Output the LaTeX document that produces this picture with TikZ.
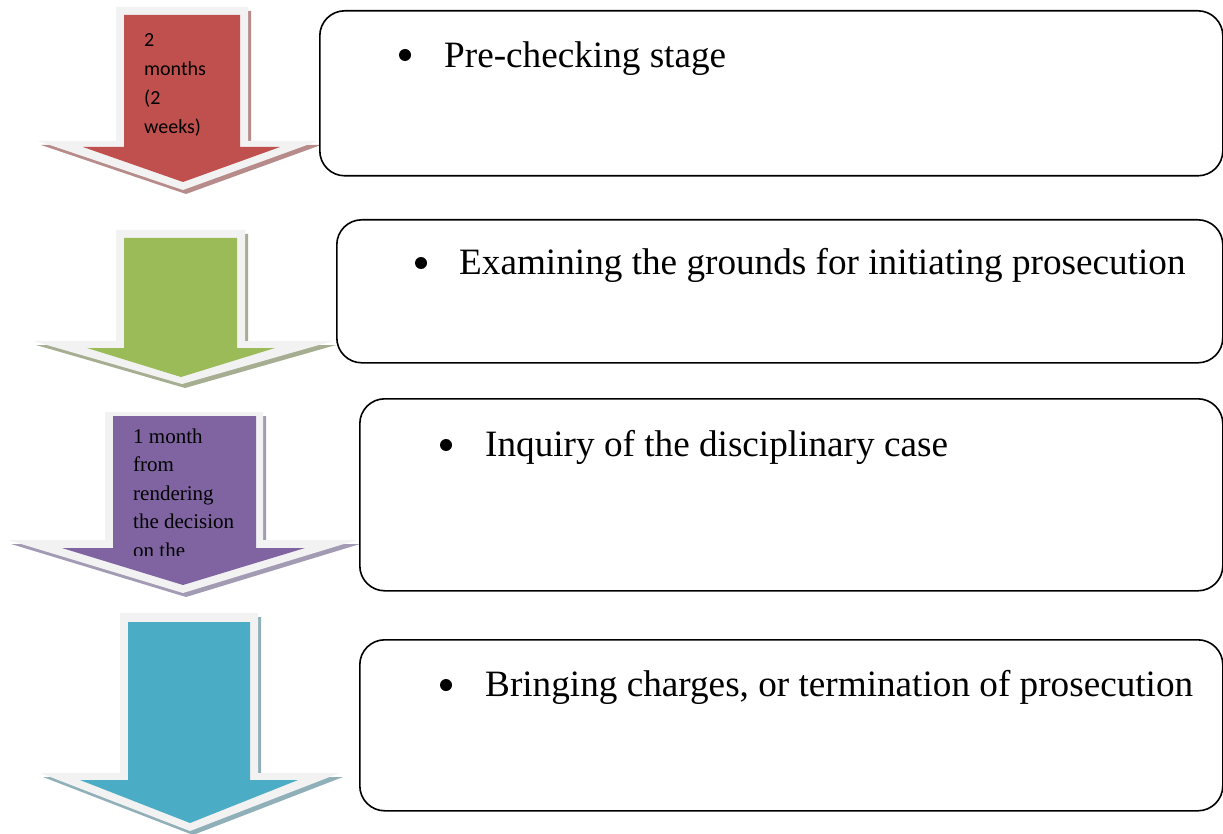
\documentclass[tikz,border=0pt]{standalone}
\usepackage{fontspec}
\setmainfont{Liberation Serif}
\newfontfamily\calibrifont{Carlito}
\newfontfamily\timesfont{Liberation Serif}

\definecolor{rimgrey}{HTML}{F2F2F2}
\definecolor{redfill}{HTML}{C0504D}
\definecolor{redshade}{HTML}{B78B8A}
\definecolor{greenfill}{HTML}{9BBB59}
\definecolor{greenshade}{HTML}{A5AE90}
\definecolor{purplefill}{HTML}{8064A2}
\definecolor{purpleshade}{HTML}{A39BB3}
\definecolor{tealfill}{HTML}{4BACC6}
\definecolor{tealshade}{HTML}{8FB0B8}

% block arrow pointing down:
% #1 style, #2 shaft left, #3 shaft right, #4 top, #5 wing y,
% #6 wing left, #7 wing right, #8 tip x, #9 tip y
\newcommand\blockarrow[9]{%
  \fill[#1] (#2,#4) -- (#3,#4) -- (#3,#5) -- (#7,#5) -- (#8,#9)
    -- (#6,#5) -- (#2,#5) -- cycle;}

\begin{document}
\begin{tikzpicture}[x=1pt,y=-1pt,
  stagebox/.style={draw=black, line width=1.6, fill=white,
    rounded corners=25, anchor=north west, inner sep=0},
  bulletdot/.style={circle, fill=black, inner sep=0, minimum size=12},
  stagetext/.style={anchor=base west, inner sep=0,
    font=\timesfont\fontsize{37.2}{44}\selectfont},
  redlabel/.style={anchor=base west, inner sep=0,
    font=\calibrifont\fontsize{20}{24}\selectfont},
  purplelabel/.style={anchor=base west, inner sep=0,
    font=\timesfont\fontsize{21}{25}\selectfont}]

\useasboundingbox (0,0) rectangle (1223,834);

% ---- arrow 1 (red)
\blockarrow{redshade,shift={(3,4)}}{116}{248}{7}{141}{38}{318}{183}{190}
\blockarrow{rimgrey}{116}{248}{7}{141}{38}{318}{183}{190}
\blockarrow{redfill}{124}{240}{15}{147}{83}{280}{183}{182}
\node[redlabel] (r1) at (144,47) {2};
\node[redlabel] (r2) at (144,76) {months};
\node[redlabel] (r3) at (144,105) {(2};
\node[redlabel] (r4) at (144,134) {weeks)};

% ---- arrow 2 (green)
\blockarrow{greenshade,shift={(3,4)}}{116}{245}{230}{341}{33}{333}{182}{384}
\blockarrow{rimgrey}{116}{245}{230}{341}{33}{333}{182}{384}
\blockarrow{greenfill}{124}{237}{238}{348}{87}{275}{181}{377}

% ---- arrow 3 (purple)
\blockarrow{purpleshade,shift={(3,4)}}{105}{263}{412}{540}{8}{357}{183}{593}
\blockarrow{rimgrey}{105}{263}{412}{540}{8}{357}{183}{593}
\blockarrow{purplefill}{113}{256}{416}{548}{62}{305}{183}{585}
\begin{scope}
  \clip (100,400) rectangle (262,555);
  \node[purplelabel] (p1) at (133,443) {1 month};
  \node[purplelabel] (p2) at (133,471.5) {from};
  \node[purplelabel] (p3) at (133,500) {rendering};
  \node[purplelabel] (p4) at (133,528.5) {the decision};
  \node[purplelabel] (p5) at (133,557) {on the};
\end{scope}

% ---- arrow 4 (teal)
\blockarrow{tealshade,shift={(3,4)}}{120}{258}{613}{773}{40}{340}{190}{831}
\blockarrow{rimgrey}{120}{258}{613}{773}{40}{340}{190}{831}
\blockarrow{tealfill}{128}{250}{622}{780}{80}{298}{190}{823}

% ---- stage boxes
\node[stagebox, minimum width=903, minimum height=165] (s1) at (319,10) {};
\node[stagebox, minimum width=886, minimum height=143] (s2) at (336,219) {};
\node[stagebox, minimum width=863, minimum height=192] (s3) at (359,398) {};
\node[stagebox, minimum width=863, minimum height=171] (s4) at (359,639) {};

\node[bulletdot] (b1) at (405,55) {};
\node[stagetext] (t1) at (444,68) {Pre-checking stage};
\node[bulletdot] (b2) at (421,263) {};
\node[stagetext] (t2) at (459,275) {Examining the grounds for initiating prosecution};
\node[bulletdot] (b3) at (446,445) {};
\node[stagetext] (t3) at (485,456) {Inquiry of the disciplinary case};
\node[bulletdot] (b4) at (446,685) {};
\node[stagetext] (t4) at (485,696) {Bringing charges, or termination of prosecution};

\end{tikzpicture}
\end{document}
